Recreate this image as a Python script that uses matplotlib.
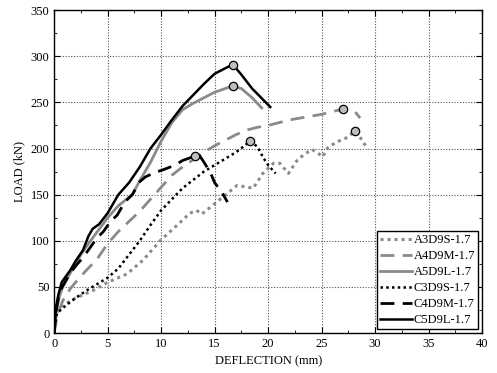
import matplotlib.pyplot as plt
from matplotlib.ticker import MultipleLocator

plt.rcParams['font.family'] = ['Liberation Serif', 'DejaVu Serif']

# deflection (mm) / load (kN)
a3_x = [0, 0.1, 0.5, 2, 3.6, 5, 6.8, 8.3, 9.9, 11.5, 12.7, 13.3, 13.8, 15.2, 17.1, 18.6, 19.5, 20.5,
        21.1, 21.9, 22.7, 23.3, 24.1, 24.9, 25.1, 25.6, 26.4, 27.4, 28.1, 28.8, 29.3]
a3_y = [0, 15, 28, 38, 46, 55, 64, 79, 100, 117, 130, 133, 129, 142, 160, 157, 173, 184,
        184, 173, 187, 193, 199, 193, 191, 201, 207, 212, 219, 209, 199]

a4_x = [0, 0.3, 0.8, 1.5, 2, 3, 4, 5, 6, 7, 8, 9, 10, 11, 12, 13, 14, 15, 16, 17, 18, 19, 20,
        21, 22, 23, 24, 25, 26, 27, 28, 28.6]
a4_y = [0, 20, 35, 48, 55, 68, 80, 97, 110, 121, 132, 145, 158, 171, 180, 188, 196, 203, 209, 215,
        220, 223, 225, 228, 231, 233, 235, 237, 240, 242.6, 241.6, 233]

a5_x = [0, 0.2, 0.5, 0.8, 1.5, 2.5, 3.4, 5, 6, 7.3, 8, 9, 10, 11, 12, 13, 14, 15, 16, 16.7,
        17.5, 18.5, 19.4]
a5_y = [0, 25, 40, 50, 65, 85, 100, 125, 138, 150, 165, 185, 208, 228, 242, 249, 255, 261, 265, 267.6,
        265, 255, 244]

c3_x = [0, 0.1, 0.3, 1, 2, 3, 4, 5, 6, 7, 8, 9, 10, 11, 12, 13, 14, 15, 16, 17, 17.8, 18.3,
        19, 19.5, 20, 20.7]
c3_y = [0, 15, 22, 29, 38, 46, 53, 60, 70, 85, 100, 117, 133, 145, 157, 166, 175, 182, 189, 196, 203, 208,
        202, 191, 182, 173]

c4_x = [0, 0.2, 0.5, 1, 1.5, 2.1, 2.7, 3.2, 4, 4.6, 5.2, 5.9, 6.6, 7.3, 8, 8.5, 9.4, 10.2, 11.3, 12,
        13.2, 13.6, 13.9, 14.6, 15, 15.7, 16.2]
c4_y = [0, 25, 45, 55, 65, 74, 82, 90, 103, 110, 120, 128, 142, 150, 164, 169, 174, 177, 182, 187,
        192, 192, 187, 174, 163, 152, 142]

c5_x = [0, 0.1, 0.2, 0.4, 0.7, 1.0, 1.5, 2, 2.7, 3.2, 3.6, 4.2, 5, 6, 7, 8, 9, 10, 11, 12, 13, 14,
        15, 16, 16.7, 17.5, 18.5, 20.2]
c5_y = [0, 15, 30, 42, 55, 60, 68, 78, 90, 105, 113, 118, 130, 150, 163, 180, 200, 215, 231, 246, 258, 270,
        281, 287, 291, 280, 265, 245]

labels = ['A3D9S-1.7', 'A4D9M-1.7', 'A5D9L-1.7', 'C3D9S-1.7', 'C4D9M-1.7', 'C5D9L-1.7']
# index of the marked peak point in each series
peak_idx = [28, 29, 19, 21, 20, 24]

gray = '#8a8a8a'
series = [
    (a3_x, a3_y, dict(color=gray, linestyle=(0, (1, 1.3)), lw=2.2)),
    (a4_x, a4_y, dict(color=gray, linestyle=(0, (5, 3)), lw=2.0)),
    (a5_x, a5_y, dict(color=gray, linestyle='-', lw=2.0)),
    (c3_x, c3_y, dict(color='black', linestyle=(0, (1, 1.3)), lw=1.8)),
    (c4_x, c4_y, dict(color='black', linestyle=(0, (5, 3)), lw=2.0)),
    (c5_x, c5_y, dict(color='black', linestyle='-', lw=1.8)),
]

fig = plt.figure(figsize=(4.97, 3.73), dpi=100)
ax = fig.add_axes([0.109, 0.107, 0.861, 0.866])

for (x, y, st), lab, pk in zip(series, labels, peak_idx):
    ax.plot(x, y, label=lab, **st)
    ax.plot(x[pk], y[pk], 'o', ms=6, mfc='#bdbdbd', mec='black', mew=0.9, zorder=5)

ax.set_xlim(0, 40)
ax.set_ylim(0, 350)
ax.xaxis.set_major_locator(MultipleLocator(5))
ax.xaxis.set_minor_locator(MultipleLocator(2.5))
ax.yaxis.set_major_locator(MultipleLocator(50))
ax.yaxis.set_minor_locator(MultipleLocator(25))
ax.tick_params(which='both', direction='in', top=True, right=True, labelsize=9)
ax.tick_params(which='major', length=4)
ax.tick_params(which='minor', length=2)
ax.grid(True, which='major', linestyle=(0, (1, 1.5)), color='#555555', lw=0.8)
for s in ax.spines.values():
    s.set_linewidth(1.0)

ax.set_xlabel('DEFLECTION (mm)', fontsize=9)
ax.set_ylabel('LOAD (kN)', fontsize=9)

leg = ax.legend(loc='lower right', fontsize=9, frameon=True, fancybox=False, framealpha=1,
                edgecolor='black', handlelength=2.6, handletextpad=0.1, labelspacing=0.32,
                borderpad=0.25, borderaxespad=0.3)
leg.get_frame().set_linewidth(1.0)

fig.savefig('out.png', dpi=100)
